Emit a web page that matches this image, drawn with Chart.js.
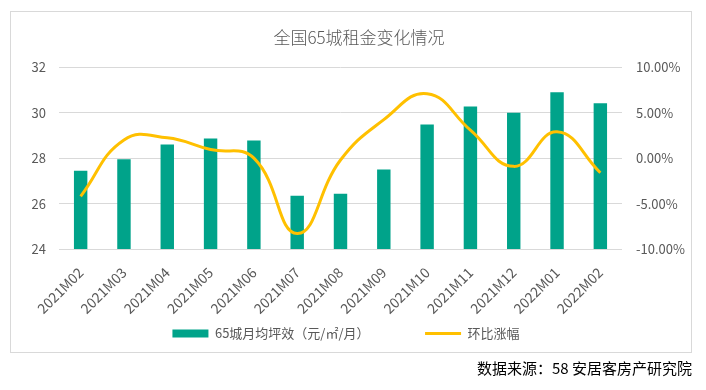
<!DOCTYPE html>
<html>
<head>
<meta charset="utf-8">
<script src="https://cdn.jsdelivr.net/npm/chart.js@4.4.1/dist/chart.umd.min.js"></script>
<style>
  html, body { margin: 0; padding: 0; background: #ffffff; }
  body { width: 706px; height: 390px; position: relative; overflow: hidden; }
  #frame { position: absolute; left: 10px; top: 11px; width: 682px; height: 342px; box-sizing: border-box; border: 1px solid #d9d9d9; }
  #c { position: absolute; left: 0; top: 0; }
  #src { position: absolute; right: 14px; top: 358px; font: 15px "Noto Sans CJK SC", "Noto Sans", sans-serif; line-height: 20px; color: #000; white-space: nowrap; }
</style>
</head>
<body>
<div id="frame"></div>
<canvas id="c" width="706" height="390"></canvas>
<div id="src">数据来源：58 安居客房产研究院</div>
<script>
const titleText = '全国65城租金变化情况';
const categories = ['2021M02','2021M03','2021M04','2021M05','2021M06','2021M07','2021M08','2021M09','2021M10','2021M11','2021M12','2022M01','2022M02'];
const rentValues = [27.45, 27.95, 28.6, 28.87, 28.78, 26.35, 26.43, 27.5, 29.49, 30.28, 30.0, 30.9, 30.42];
const momChange = [-4.2, 2.0, 2.25, 0.95, 0.0, -8.3, -0.2, 4.25, 7.1, 3.1, -0.9, 2.9, -1.6];
const rentLabel = '65城月均坪效（元/㎡/月）';
const changeLabel = '环比涨幅';
const leftTicks = { min: 24, max: 32, step: 2 };
const rightTicks = { min: -10, max: 10, step: 5 };

const FONT = '"Noto Sans CJK SC", "Noto Sans", sans-serif';
const GREY = '#595959';
// spacing after each legend label (ideographic spaces)
const legendGaps = { [rentLabel]: '\u3000\u3000\u3000\u3000', [changeLabel]: '\u3000\u3000' };

new Chart(document.getElementById('c'), {
  data: {
    labels: categories,
    datasets: [
      {
        type: 'line',
        label: changeLabel,
        data: momChange,
        yAxisID: 'y1',
        borderColor: '#FFC000',
        backgroundColor: '#FFC000',
        borderWidth: 3,
        pointRadius: 0,
        pointStyle: 'line',
        tension: 0.45,
        order: 0
      },
      {
        type: 'bar',
        label: rentLabel,
        data: rentValues,
        yAxisID: 'y',
        backgroundColor: '#00A38A',
        borderWidth: 0,
        pointStyle: 'rect',
        categoryPercentage: 1,
        barPercentage: 0.31,
        order: 1
      }
    ]
  },
  options: {
    responsive: false,
    devicePixelRatio: 1,
    animation: false,
    layout: { padding: { left: 24, right: 12, top: 0, bottom: 40 } },
    plugins: {
      title: {
        display: true,
        text: titleText,
        color: GREY,
        font: { family: FONT, size: 17, weight: '300' },
        padding: { top: 27, bottom: 20 }
      },
      legend: {
        position: 'bottom',
        reverse: true,
        labels: {
          usePointStyle: true,
          pointStyleWidth: 36,
          boxHeight: 8,
          padding: 10,
          color: GREY,
          font: { family: FONT, size: 13 },
          generateLabels: chart => {
            const items = Chart.defaults.plugins.legend.labels.generateLabels(chart);
            items.forEach(it => { it.text = it.text + (legendGaps[it.text] || ''); });
            return items;
          }
        }
      },
      tooltip: { enabled: false }
    },
    scales: {
      x: {
        grid: { display: false },
        border: { display: false },
        ticks: {
          color: GREY,
          font: { family: FONT, size: 14 },
          minRotation: 45,
          maxRotation: 45,
          padding: 7
        },
        afterFit: s => { s.height = 68; }
      },
      y: {
        position: 'left',
        min: leftTicks.min,
        max: leftTicks.max,
        grid: { color: '#d9d9d9', lineWidth: 1, drawTicks: false },
        border: { display: false },
        ticks: {
          stepSize: leftTicks.step,
          color: GREY,
          font: { family: FONT, size: 13 },
          padding: 13
        },
        afterFit: s => { s.width = 35; }
      },
      y1: {
        position: 'right',
        min: rightTicks.min,
        max: rightTicks.max,
        grid: { display: false, drawTicks: false },
        border: { display: false },
        ticks: {
          stepSize: rightTicks.step,
          color: GREY,
          font: { family: FONT, size: 13 },
          padding: 14,
          callback: v => v.toFixed(2) + '%'
        },
        afterFit: s => { s.width = 72; }
      }
    }
  }
});
</script>
</body>
</html>
